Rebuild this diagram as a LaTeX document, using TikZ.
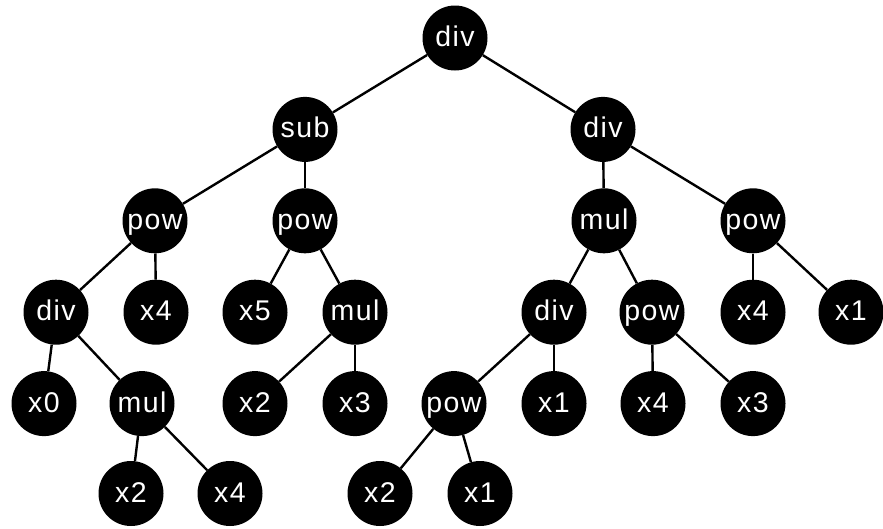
\documentclass[tikz,border=0pt]{standalone}
\usepackage{fontspec}
\setmainfont{Liberation Sans}[LetterSpace=5]
\usepackage{tikz}
\usetikzlibrary{positioning}
\usetikzlibrary{shapes,arrows}
\tikzstyle{op} = [circle, fill=black, text=white, minimum size=65pt, inner sep=0pt,
    text height=17pt, text depth=0pt, font=\fontsize{28.5}{30}\selectfont]
\tikzstyle{edge} = [line width=2.4pt]
\begin{document}
\begin{tikzpicture}[node distance = 91.4pt]
\useasboundingbox (0pt,-528pt) rectangle (883pt,0pt);

\node (div_1) [op] at (455pt,-38pt) {div};
\node (sub) [op, below of=div_1, xshift=-150pt] {sub};
\node (div_2) [op, below of=div_1, xshift=148pt] {div};
\node (pow_1) [op, below of=sub, xshift=-150pt] {pow};
\node (pow_2) [op, below of=sub] {pow};
\node (mul_1) [op, below of=div_2, xshift=1pt] {mul};
\node (pow_3) [op, below of=div_2, xshift=150pt] {pow};
\node (div_3) [op, below of=pow_1, xshift=-99pt] {div};
\node (x4_1) [op, below of=pow_1, xshift=1pt] {x4};
\node (x5) [op, below of=pow_2, xshift=-50pt] {x5};
\node (mul_2) [op, below of=pow_2, xshift=50pt] {mul};
\node (div_4) [op, below of=mul_1, xshift=-50pt] {div};
\node (pow_4) [op, below of=mul_1, xshift=48pt] {pow};
\node (x4_2) [op, below of=pow_3] {x4};
\node (x1_1) [op, below of=pow_3, xshift=98pt] {x1};
\node (x0) [op, below of=div_3, xshift=-12pt] {x0};
\node (mul_3) [op, below of=div_3, xshift=86pt] {mul};
\node (x2_1) [op, below of=mul_2, xshift=-100pt] {x2};
\node (x3_1) [op, below of=mul_2] {x3};
\node (pow_5) [op, below of=div_4, xshift=-100pt] {pow};
\node (x1_2) [op, below of=div_4] {x1};
\node (x4_3) [op, below of=pow_4, xshift=1pt] {x4};
\node (x3_2) [op, below of=pow_4, xshift=101pt] {x3};
\node (x2_2) [op, below of=mul_3, xshift=-11pt, yshift=1.5pt] {x2};
\node (x4_4) [op, below of=mul_3, xshift=88pt, yshift=1.5pt] {x4};
\node (x2_3) [op, below of=pow_5, xshift=-74pt, yshift=1.5pt] {x2};
\node (x1_3) [op, below of=pow_5, xshift=26pt, yshift=1.5pt] {x1};

\draw [edge] (div_1)--(sub);
\draw [edge] (div_1)--(div_2);
\draw [edge] (sub)--(pow_1);
\draw [edge] (sub)--(pow_2);
\draw [edge] (div_2)--(mul_1);
\draw [edge] (div_2)--(pow_3);
\draw [edge] (pow_1)--(div_3);
\draw [edge] (pow_1)--(x4_1);
\draw [edge] (pow_2)--(x5);
\draw [edge] (pow_2)--(mul_2);
\draw [edge] (mul_1)--(div_4);
\draw [edge] (mul_1)--(pow_4);
\draw [edge] (pow_3)--(x4_2);
\draw [edge] (pow_3)--(x1_1);
\draw [edge] (div_3)--(x0);
\draw [edge] (div_3)--(mul_3);
\draw [edge] (mul_2)--(x2_1);
\draw [edge] (mul_2)--(x3_1);
\draw [edge] (div_4)--(pow_5);
\draw [edge] (div_4)--(x1_2);
\draw [edge] (pow_4)--(x4_3);
\draw [edge] (pow_4)--(x3_2);
\draw [edge] (mul_3)--(x2_2);
\draw [edge] (mul_3)--(x4_4);
\draw [edge] (pow_5)--(x2_3);
\draw [edge] (pow_5)--(x1_3);

\end{tikzpicture}
\end{document}
